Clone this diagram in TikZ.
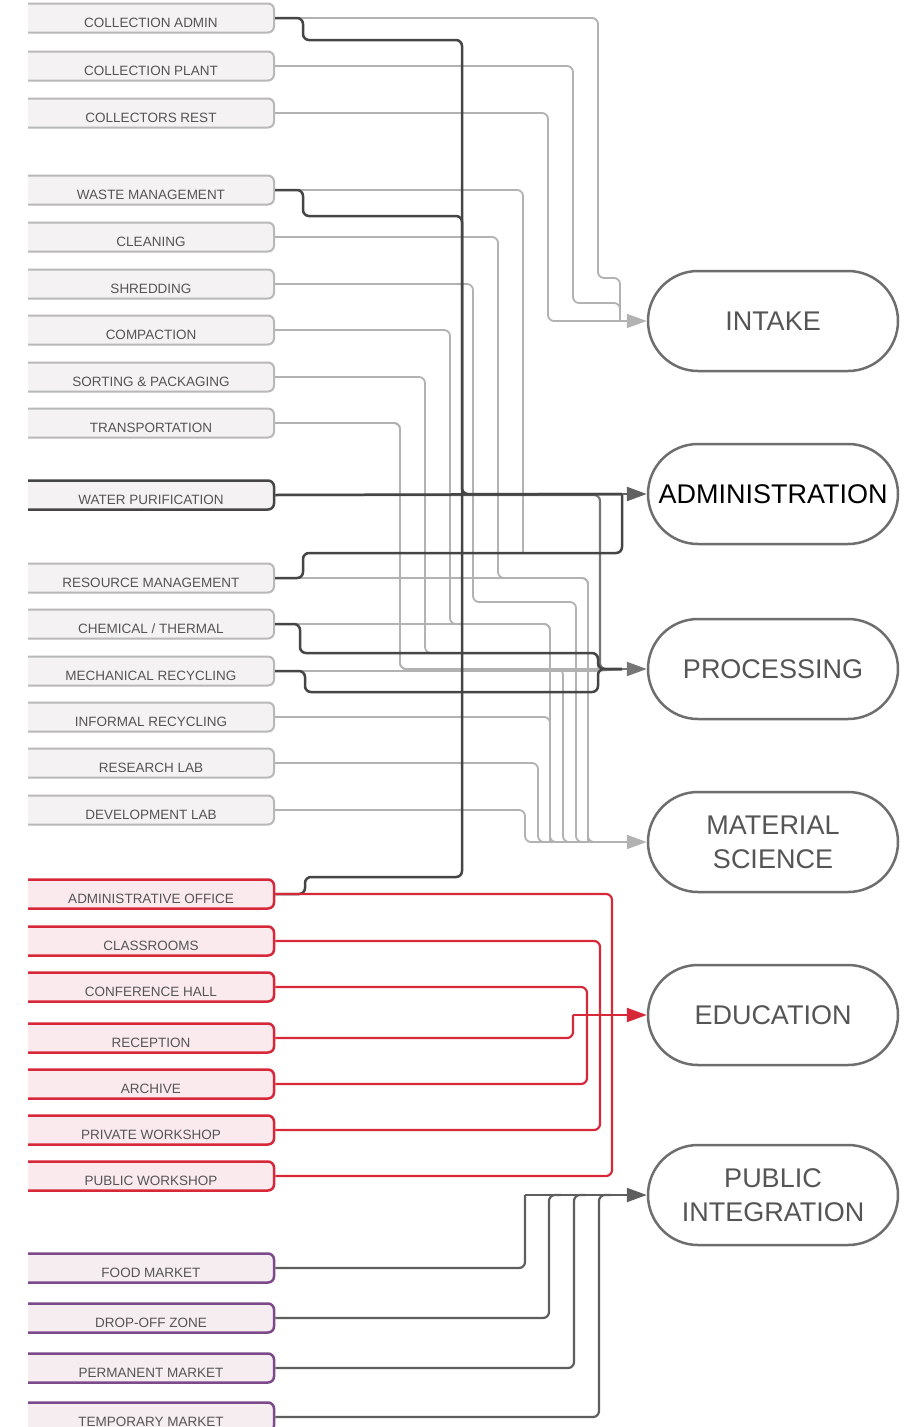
\documentclass[tikz,border=0pt]{standalone}
\usepackage{fontspec}
\setmainfont{Liberation Sans}
\usetikzlibrary{arrows.meta}

\definecolor{liteline}{HTML}{B2B2B2}
\definecolor{midline}{HTML}{767676}
\definecolor{darkline}{HTML}{454545}
\definecolor{redline}{HTML}{D62839}
\definecolor{purpline}{HTML}{7C4A8A}
\definecolor{publine}{HTML}{5E5E5E}
\definecolor{roomfill}{HTML}{F4F2F2}
\definecolor{redfill}{HTML}{FAEAEE}
\definecolor{purpfill}{HTML}{F6EDF1}
\definecolor{boxedge}{HTML}{B8B8B8}
\definecolor{zoneedge}{HTML}{6E6E6E}
\definecolor{txt}{HTML}{555555}

% room label: shifted right so it sits centred on the visible part of the box
\newcommand{\roomtxt}[1]{\hspace*{20pt}#1}

\tikzset{
  room/.style={rectangle, rounded corners=6pt, draw=boxedge, fill=roomfill,
    line width=2pt, minimum width=266pt, minimum height=29pt, inner sep=0pt,
    text height=19pt, text depth=0pt,
    text=txt, font=\fontsize{13.5}{14}\selectfont},
  keyroom/.style={room, draw=darkline, line width=2.5pt},
  redroom/.style={room, draw=redline, fill=redfill, line width=2.5pt},
  purproom/.style={room, draw=purpline, fill=purpfill, line width=2.5pt},
  zone/.style={rectangle, rounded corners=50pt, draw=zoneedge, fill=white,
    line width=2.5pt, minimum width=250pt, minimum height=100pt, inner sep=0pt,
    text=txt, align=center, font=\fontsize{27}{34}\selectfont},
  wire/.style={rounded corners=6pt, line width=1.8pt},
  lite/.style={wire, draw=liteline},
  mid/.style={wire, draw=midline, line width=2.2pt},
  dark/.style={wire, draw=darkline, line width=2.5pt},
  redw/.style={wire, draw=redline, line width=2.2pt},
  pubw/.style={wire, draw=publine, line width=2.2pt},
  tip/.style={-{Triangle[length=20pt,width=14pt]}},
}

\begin{document}
\begin{tikzpicture}[x=1pt,y=-1pt]
\useasboundingbox (0,0) rectangle (919,1427);
\fill[white] (0,0) rectangle (919,1427);

% ---- rooms (left column), clipped so their left ends run off the sheet
\begin{scope}
\clip (28,0) rectangle (919,1427);
\node[room] (ca) at (141,18)  {\roomtxt{COLLECTION ADMIN}};
\node[room] (cp) at (141,66)  {\roomtxt{COLLECTION PLANT}};
\node[room] (cr) at (141,113) {\roomtxt{COLLECTORS REST}};
\node[room] (wm) at (141,190) {\roomtxt{WASTE MANAGEMENT}};
\node[room] (cl) at (141,237) {\roomtxt{CLEANING}};
\node[room] (sh) at (141,284) {\roomtxt{SHREDDING}};
\node[room] (cm) at (141,330) {\roomtxt{COMPACTION}};
\node[room] (sp) at (141,377) {\roomtxt{SORTING \& PACKAGING}};
\node[room] (tr) at (141,423) {\roomtxt{TRANSPORTATION}};
\node[keyroom] (wp) at (141,495) {\roomtxt{WATER PURIFICATION}};
\node[room] (rm) at (141,578) {\roomtxt{RESOURCE MANAGEMENT}};
\node[room] (ct) at (141,624) {\roomtxt{CHEMICAL / THERMAL}};
\node[room] (mr) at (141,671) {\roomtxt{MECHANICAL RECYCLING}};
\node[room] (ir) at (141,717) {\roomtxt{INFORMAL RECYCLING}};
\node[room] (rl) at (141,763) {\roomtxt{RESEARCH LAB}};
\node[room] (dl) at (141,810) {\roomtxt{DEVELOPMENT LAB}};
\node[redroom] (ao) at (141,894)  {\roomtxt{ADMINISTRATIVE OFFICE}};
\node[redroom] (cs) at (141,941)  {\roomtxt{CLASSROOMS}};
\node[redroom] (ch) at (141,987)  {\roomtxt{CONFERENCE HALL}};
\node[redroom] (re) at (141,1038) {\roomtxt{RECEPTION}};
\node[redroom] (ar) at (141,1084) {\roomtxt{ARCHIVE}};
\node[redroom] (pv) at (141,1130) {\roomtxt{PRIVATE WORKSHOP}};
\node[redroom] (pw) at (141,1176) {\roomtxt{PUBLIC WORKSHOP}};
\node[purproom] (fm) at (141,1268) {\roomtxt{FOOD MARKET}};
\node[purproom] (dz) at (141,1318) {\roomtxt{DROP-OFF ZONE}};
\node[purproom] (pm) at (141,1368) {\roomtxt{PERMANENT MARKET}};
\node[purproom] (tm) at (141,1417) {\roomtxt{TEMPORARY MARKET}};
\end{scope}

% ---- zones (right column)
\node[zone] (intake) at (773,321)  {INTAKE};
\node[zone, text=black] (admin) at (773,494) {ADMINISTRATION};
\node[zone] (proc)   at (773,669)  {PROCESSING};
\node[zone] (matsci) at (773,842)  {MATERIAL\\SCIENCE};
\node[zone] (edu)    at (773,1015) {EDUCATION};
\node[zone] (pub)    at (773,1195) {PUBLIC\\INTEGRATION};

% ---- junctions where bundles meet before each arrow
\coordinate (jI) at (620,321);
\coordinate (jA) at (622,494);
\coordinate (jP) at (622,669);
\coordinate (jM) at (622,842);
\coordinate (jE) at (573,1015);
\coordinate (jU) at (525,1195);

% ---- intake bundle
\draw[lite] (ca.east) -| (598,278) -| (jI);
\draw[lite] (cp.east) -| (573,303) -| (jI);
\draw[lite] (cr.east) -| (548,321) -- (jI);
\draw[lite, tip] (jI) -- (intake.west);

% ---- material science bundle
\draw[lite] (wm.east) -| (523,553);
\draw[lite] (rm.east) -| (588,842) -- (jM);
\draw[lite] (cl.east) -| (498,578) -| (588,842);
\draw[lite] (sh.east) -| (473,602) -| (576,842) -- (jM);
\draw[lite] (cm.east) -| (450,624) -| (550,842);
\draw[lite] (ct.east) -| (550,842) -- (jM);
\draw[lite] (ir.east) -| (550,842);
\draw[lite] (rl.east) -| (538,842) -- (jM);
\draw[lite] (dl.east) -| (525,842) -- (jM);
\draw[lite] (tr.east) -| (400,669) -| (563,842) -- (jM);
\draw[lite, tip] (jM) -- (matsci.west);

% ---- processing bundle
\draw[lite] (sp.east) -| (425,653) -| (598,669);
\draw[lite] (tr.east) -| (400,669) -- (jP);
\draw[lite] (mr.east) -- (598,671) -- (jP);
\draw[mid]  (wp.east) -| (600,669) -- (jP);
\draw[dark] (ct.east) -| (300,653) -| (598,669) -- (jP);
\draw[dark] (mr.east) -| (305,692) -| (598,669) -- (jP);
\draw[mid, tip] (jP) -- (proc.west);

% ---- administration bundle
\draw[dark] (ca.east) -| (303,40) -| (462,494) -- (jA);
\draw[dark] (wm.east) -| (303,216) -| (462,494);
\draw[dark] (ao.east) -| (305,877) -| (462,494);
\draw[dark] (wp.east) -- (jA);
\draw[dark] (rm.east) -| (303,553) -| (jA);
\draw[darkline!85, line width=2.5pt, tip] (jA) -- (admin.west);

% ---- education bundle
\draw[redw] (ao.east) -| (612,1015) |- (pw.east);
\draw[redw] (cs.east) -| (600,1015) |- (pv.east);
\draw[redw] (ch.east) -| (587,1015) |- (ar.east);
\draw[redw] (re.east) -| (jE);
\draw[redw, tip] (jE) -- (edu.west);

% ---- public integration bundle
\draw[pubw] (dz.east) -| (549,1195) -- ++(12,0);
\draw[pubw] (pm.east) -| (574,1195) -- ++(12,0);
\draw[pubw] (tm.east) -| (599,1195) -- ++(12,0);
\draw[pubw] (fm.east) -| (jU);
\draw[pubw, tip] (jU) -- (pub.west);
\end{tikzpicture}
\end{document}
